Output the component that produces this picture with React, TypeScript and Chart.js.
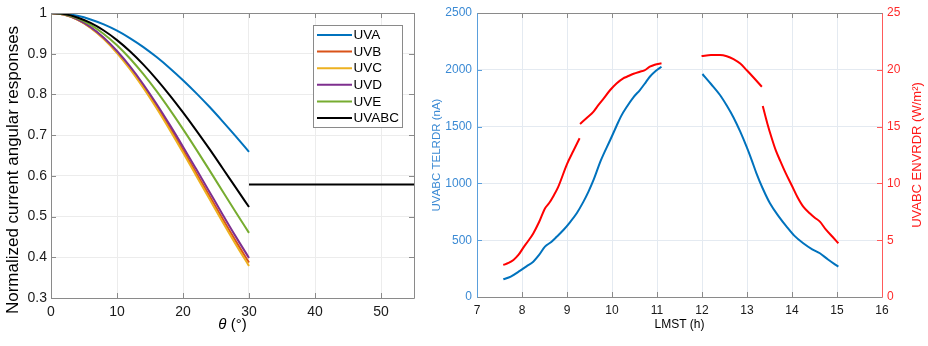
import { useEffect, useRef } from "react";
import { Chart, registerables } from "chart.js";
Chart.register(...registerables);

const FONT = "'Liberation Sans', Arial, Helvetica, sans-serif";
Chart.defaults.font.family = FONT;

// ---------- Left chart data ----------
const thetaDeg = [0, 2, 4, 6, 8, 10, 12, 14, 16, 18, 20, 22, 24, 26, 28, 30];
const uvA = [1, 0.9982, 0.993, 0.9842, 0.972, 0.9566, 0.9379, 0.9163, 0.8917, 0.8645, 0.8349, 0.8032, 0.7696, 0.7339, 0.6969, 0.6589];
const uvB = [1, 0.996, 0.984, 0.9644, 0.9375, 0.9039, 0.8643, 0.8195, 0.7705, 0.718, 0.6633, 0.6073, 0.551, 0.4945, 0.4397, 0.387];
const uvC = [1, 0.9959, 0.9837, 0.9636, 0.9361, 0.9018, 0.8615, 0.8158, 0.7659, 0.7126, 0.6571, 0.6005, 0.5436, 0.4866, 0.4315, 0.3787];
const uvD = [1, 0.9961, 0.9845, 0.9654, 0.9393, 0.9067, 0.8682, 0.8245, 0.7766, 0.7252, 0.6716, 0.6166, 0.561, 0.5052, 0.4507, 0.3983];
const uvE = [1, 0.9967, 0.9869, 0.9708, 0.9486, 0.9207, 0.8876, 0.8497, 0.8079, 0.7626, 0.7147, 0.665, 0.6141, 0.562, 0.5105, 0.4599];
const uvABC = [1, 0.9973, 0.9891, 0.9756, 0.957, 0.9334, 0.9054, 0.8731, 0.8371, 0.7978, 0.7558, 0.7118, 0.6661, 0.6187, 0.571, 0.5235];
const strayLineX = [30, 55];
const strayLineY = [0.579, 0.579];
const seriesNames = ["UVA", "UVB", "UVC", "UVD", "UVE", "UVABC"];
const seriesColors = ["#0072BD", "#D95319", "#EDB120", "#7E2F8E", "#77AC30", "#000000"];
const leftXTicks = [0, 10, 20, 30, 40, 50, 55];
const leftYTicks = [0.3, 0.4, 0.5, 0.6, 0.7, 0.8, 0.9, 1];

// ---------- Right chart data ----------
const lmstTel = [7.585, 7.75, 7.96, 8.1, 8.25, 8.38, 8.51, 8.65, 8.77, 8.92, 9.07, 9.22, 9.36, 9.48, 9.59, 9.75, 9.96, 10.1, 10.2, 10.33, 10.48, 10.62, 10.75, 10.84, 10.97, 11.1,
  11.5,
  12.01, 12.2, 12.4, 12.55, 12.7, 12.85, 12.99, 13.1, 13.21, 13.35, 13.51, 13.7, 13.88, 14.05, 14.25, 14.45, 14.62, 14.8, 15.03];
const telrdr = [156, 180, 232, 270, 311, 370, 443, 485, 530, 590, 660, 740, 835, 930, 1030, 1200, 1382, 1505, 1590, 1675, 1760, 1822, 1890, 1939, 1990, 2027,
  null,
  1963, 1875, 1778, 1685, 1580, 1455, 1323, 1210, 1089, 955, 825, 712, 619, 540, 473, 420, 385, 330, 267];
const lmstEnv = [7.585, 7.7, 7.81, 7.92, 8.03, 8.14, 8.25, 8.38, 8.51, 8.6, 8.7, 8.8, 9.0, 9.14, 9.28,
  9.285,
  9.29, 9.45, 9.59, 9.66, 9.8, 9.96, 10.1, 10.25, 10.33, 10.48, 10.62, 10.72, 10.84, 10.95, 11.1,
  11.5,
  11.99, 12.2, 12.4, 12.55, 12.7, 12.85, 12.99, 13.15, 13.33,
  13.34,
  13.35, 13.45, 13.55, 13.64, 13.73, 13.86, 13.99, 14.12, 14.25, 14.4, 14.5, 14.62, 14.75, 14.9, 15.03];
const envrdr = [2.82, 3.0, 3.26, 3.7, 4.35, 4.95, 5.6, 6.6, 7.8, 8.25, 8.9, 9.65, 11.7, 12.85, 13.97,
  null,
  15.23, 15.8, 16.31, 16.7, 17.4, 18.22, 18.8, 19.25, 19.39, 19.65, 19.83, 19.95, 20.27, 20.45, 20.57,
  null,
  21.21, 21.3, 21.3, 21.2, 20.95, 20.55, 19.98, 19.3, 18.51,
  null,
  16.81, 15.3, 13.97, 12.9, 12.06, 10.9, 9.86, 8.8, 7.95, 7.35, 7.0, 6.63, 5.95, 5.3, 4.73];
const rightXTicks = [7, 8, 9, 10, 11, 12, 13, 14, 15, 16];
const telTicks = [0, 500, 1000, 1500, 2000, 2500];
const envTicks = [0, 5, 10, 15, 20, 25];

// ---------- helpers ----------
const pts = (xs: number[], ys: (number | null)[]) => xs.map((x, i) => ({ x, y: ys[i] }));

function line(ctx: CanvasRenderingContext2D, x1: number, y1: number, x2: number, y2: number, c: string, w = 1) {
  ctx.strokeStyle = c;
  ctx.lineWidth = w;
  ctx.beginPath();
  ctx.moveTo(x1, y1);
  ctx.lineTo(x2, y2);
  ctx.stroke();
}

function text(ctx: CanvasRenderingContext2D, s: string, x: number, y: number, size: number, color: string, rot = 0) {
  ctx.save();
  ctx.translate(x, y);
  ctx.rotate(rot);
  ctx.font = `${size}px ${FONT}`;
  ctx.fillStyle = color;
  ctx.textAlign = "center";
  ctx.textBaseline = "middle";
  ctx.fillText(s, 0, 0);
  ctx.restore();
}

type FrameOpts = { top: string; bottom: string; left: string; right: string; tick: number; leftId: string; rightId?: string };

function drawFrame(chart: any, o: FrameOpts) {
  const { ctx, chartArea: a } = chart;
  ctx.save();
  const xs = chart.scales.x;
  for (const t of xs.ticks) {
    const px = Math.round(xs.getPixelForValue(t.value)) + 0.5;
    line(ctx, px, a.bottom, px, a.bottom - o.tick, o.bottom);
    line(ctx, px, a.top, px, a.top + o.tick, o.top);
  }
  const yl = chart.scales[o.leftId];
  for (const t of yl.ticks) {
    const py = Math.round(yl.getPixelForValue(t.value)) + 0.5;
    line(ctx, a.left, py, a.left + o.tick, py, o.left);
    if (!o.rightId) line(ctx, a.right, py, a.right - o.tick, py, o.right);
  }
  if (o.rightId) {
    const yr = chart.scales[o.rightId];
    for (const t of yr.ticks) {
      const py = Math.round(yr.getPixelForValue(t.value)) + 0.5;
      line(ctx, a.right, py, a.right - o.tick, py, o.right);
    }
  }
  const L = Math.round(a.left) + 0.5, R = Math.round(a.right) + 0.5, T = Math.round(a.top) + 0.5, B = Math.round(a.bottom) + 0.5;
  line(ctx, L, T, R, T, o.top);
  line(ctx, L, B, R, B, o.bottom);
  line(ctx, L, T, L, B, o.left);
  line(ctx, R, T, R, B, o.right);
  ctx.restore();
}

const leftPlugin = {
  id: "leftDecor",
  afterDraw(chart: any) {
    const { ctx, chartArea: a } = chart;
    drawFrame(chart, { top: "#8a8a8a", bottom: "#8a8a8a", left: "#8a8a8a", right: "#8a8a8a", tick: 5, leftId: "y" });
    // axis titles
    text(ctx, "Normalized current angular responses", 13.5, 170, 17, "#000", -Math.PI / 2);
    ctx.save();
    const cx = (a.left + a.right) / 2;
    const cy = 325;
    ctx.font = `italic 15px ${FONT}`;
    const w1 = ctx.measureText("θ").width;
    ctx.font = `15px ${FONT}`;
    const w2 = ctx.measureText(" (°)").width;
    const x0 = cx - (w1 + w2) / 2;
    ctx.fillStyle = "#000";
    ctx.textBaseline = "middle";
    ctx.textAlign = "left";
    ctx.font = `italic 15px ${FONT}`;
    ctx.fillText("θ", x0, cy);
    ctx.font = `15px ${FONT}`;
    ctx.fillText(" (°)", x0 + w1, cy);
    ctx.restore();
    // legend
    ctx.save();
    const bx = 313.5, by = 25.5, bw = 89, bh = 102;
    ctx.fillStyle = "#fff";
    ctx.fillRect(bx, by, bw, bh);
    ctx.strokeStyle = "#8a8a8a";
    ctx.lineWidth = 1;
    ctx.strokeRect(bx, by, bw, bh);
    seriesNames.forEach((n, i) => {
      const y = 35 + i * 16.6;
      line(ctx, 317, y, 352, y, seriesColors[i], 2);
      ctx.font = `13.5px ${FONT}`;
      ctx.fillStyle = "#000";
      ctx.textAlign = "left";
      ctx.textBaseline = "middle";
      ctx.fillText(n, 353.5, y + 0.5);
    });
    ctx.restore();
  },
};

const rightPlugin = {
  id: "rightDecor",
  afterDraw(chart: any) {
    const { ctx, chartArea: a } = chart;
    drawFrame(chart, { top: "#8a8a8a", bottom: "#8a8a8a", left: "#5a9fdc", right: "#ff5a5a", tick: 5, leftId: "y", rightId: "y2" });
    const cy = (a.top + a.bottom) / 2;
    text(ctx, "UVABC TELRDR (nA)", 12, cy, 11.5, "#3b8ad4", -Math.PI / 2);
    text(ctx, "UVABC ENVRDR (W/m²)", 492, cy, 13, "#ff1a1a", -Math.PI / 2);
    text(ctx, "LMST (h)", (a.left + a.right) / 2, 325, 12, "#000");
  },
};

function leftConfig(): any {
  const all = [uvA, uvB, uvC, uvD, uvE, uvABC];
  const datasets: any[] = all.map((arr, i) => ({
    label: seriesNames[i],
    data: pts(thetaDeg, arr),
    borderColor: seriesColors[i],
    borderWidth: 2,
    pointRadius: 0,
    cubicInterpolationMode: "monotone",
    order: 5 - i,
  }));
  datasets.push({
    label: "stray",
    data: pts(strayLineX, strayLineY),
    borderColor: "#000",
    borderWidth: 2,
    pointRadius: 0,
    order: 0,
    clip: false,
  });
  return {
    type: "line",
    data: { datasets },
    options: {
      animation: false,
      responsive: false,
      maintainAspectRatio: false,
      layout: { padding: { left: 0, right: 11, top: 13, bottom: 0 } },
      plugins: { legend: { display: false }, tooltip: { enabled: false } },
      scales: {
        x: {
          type: "linear",
          min: 0,
          max: 55,
          afterBuildTicks: (s: any) => { s.ticks = leftXTicks.map((v) => ({ value: v })); },
          afterFit: (s: any) => { s.height = 48; },
          grid: { color: "#ececec", drawTicks: false },
          border: { display: false },
          ticks: {
            padding: 6,
            color: "#1a1a1a",
            font: { size: 14 },
            maxRotation: 0,
            autoSkip: false,
            callback: (v: any) => (v === 55 ? "" : String(v)),
          },
        },
        y: {
          type: "linear",
          min: 0.3,
          max: 1,
          afterBuildTicks: (s: any) => { s.ticks = leftYTicks.map((v) => ({ value: v })); },
          afterFit: (s: any) => { s.width = 51; },
          grid: { color: "#ececec", drawTicks: false },
          border: { display: false },
          ticks: {
            padding: 4,
            color: "#1a1a1a",
            font: { size: 14 },
            autoSkip: false,
            callback: (v: any) => String(Math.round(v * 10) / 10),
          },
        },
      },
    },
    plugins: [leftPlugin],
  };
}

function rightConfig(): any {
  return {
    type: "line",
    data: {
      datasets: [
        {
          label: "TELRDR",
          data: pts(lmstTel, telrdr),
          borderColor: "#0072BD",
          borderWidth: 2,
          pointRadius: 0,
          yAxisID: "y",
          spanGaps: false,
          cubicInterpolationMode: "monotone",
        },
        {
          label: "ENVRDR",
          data: pts(lmstEnv, envrdr),
          borderColor: "#ff0000",
          borderWidth: 2,
          pointRadius: 0,
          yAxisID: "y2",
          spanGaps: false,
          cubicInterpolationMode: "monotone",
        },
      ],
    },
    options: {
      animation: false,
      responsive: false,
      maintainAspectRatio: false,
      layout: { padding: { left: 0, right: 0, top: 13, bottom: 0 } },
      plugins: { legend: { display: false }, tooltip: { enabled: false } },
      scales: {
        x: {
          type: "linear",
          min: 7,
          max: 16,
          afterBuildTicks: (s: any) => { s.ticks = rightXTicks.map((v) => ({ value: v })); },
          afterFit: (s: any) => { s.height = 49; },
          grid: { color: "#e4eaf1", drawTicks: false },
          border: { display: false },
          ticks: { padding: 6, color: "#1a1a1a", font: { size: 12 }, maxRotation: 0, autoSkip: false },
        },
        y: {
          type: "linear",
          position: "left",
          min: 0,
          max: 2500,
          afterBuildTicks: (s: any) => { s.ticks = telTicks.map((v) => ({ value: v })); },
          afterFit: (s: any) => { s.width = 52; },
          grid: { color: "#e4eaf1", drawTicks: false },
          border: { display: false },
          ticks: { padding: 5, color: "#3b8ad4", font: { size: 12 }, autoSkip: false, callback: (v: any) => String(v) },
        },
        y2: {
          type: "linear",
          position: "right",
          min: 0,
          max: 25,
          afterBuildTicks: (s: any) => { s.ticks = envTicks.map((v) => ({ value: v })); },
          afterFit: (s: any) => { s.width = 46; },
          grid: { drawOnChartArea: false, drawTicks: false },
          border: { display: false },
          ticks: { padding: 5, color: "#ff2a2a", font: { size: 12 }, autoSkip: false, callback: (v: any) => String(v) },
        },
      },
    },
    plugins: [rightPlugin],
  };
}

export default function App() {
  const leftRef = useRef<HTMLCanvasElement>(null);
  const rightRef = useRef<HTMLCanvasElement>(null);
  useEffect(() => {
    const c1 = new Chart(leftRef.current as HTMLCanvasElement, leftConfig());
    const c2 = new Chart(rightRef.current as HTMLCanvasElement, rightConfig());
    return () => {
      c1.destroy();
      c2.destroy();
    };
  }, []);
  return (
    <div style={{ position: "absolute", left: 0, top: 0, width: 928, height: 346, background: "#fff" }}>
      <canvas ref={leftRef} width={425} height={346} style={{ position: "absolute", left: 0, top: 0, width: 425, height: 346 }} />
      <canvas ref={rightRef} width={503} height={346} style={{ position: "absolute", left: 425, top: 0, width: 503, height: 346 }} />
    </div>
  );
}
